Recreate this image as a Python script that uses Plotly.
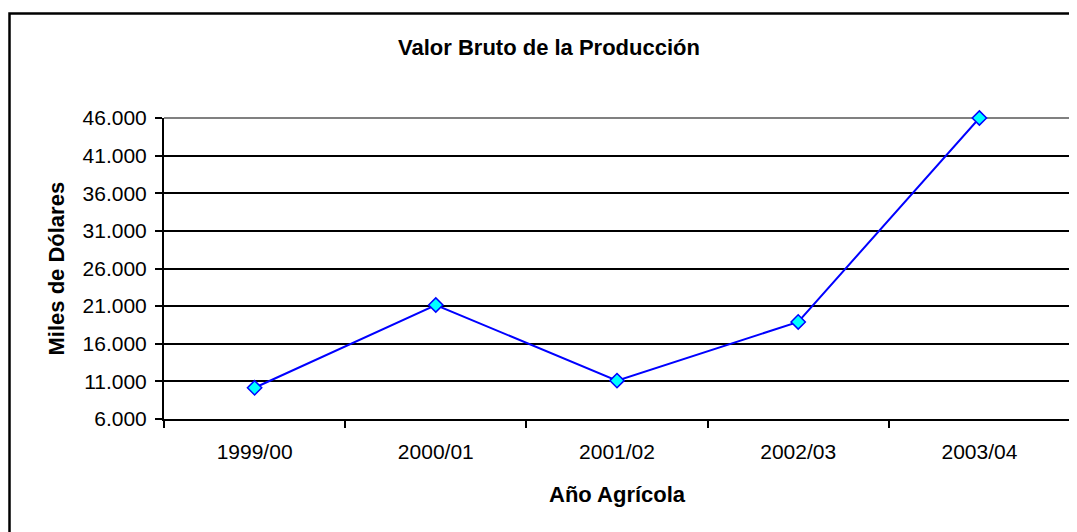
import plotly.graph_objects as go

categories = ["1999/00", "2000/01", "2001/02", "2002/03", "2003/04"]
values = [10150, 21150, 11100, 18900, 46000]
y_tickvals = [6000, 11000, 16000, 21000, 26000, 31000, 36000, 41000, 46000]

W, H = 1077, 532
OFF = 8  # page body margin offset
# plot area in screen pixels (reference)
PX0, PX1, PY0, PY1 = 164, 1070, 118, 419
L = PX0 - OFF
R = W - (PX1 - OFF)
T = PY0 - OFF
B = H - (PY1 - OFF)
pw, ph = PX1 - PX0, PY1 - PY0

def px_x(p):
    return (p - PX0) / pw

def px_y(p):
    return (PY1 - p) / ph

font = "Liberation Sans, Arial, sans-serif"

fig = go.Figure()
fig.add_trace(go.Scatter(
    x=categories, y=values, mode="lines+markers",
    line=dict(color="#0000FF", width=2),
    marker=dict(symbol="diamond", size=11, color="#00FFFF",
                line=dict(color="#0000FF", width=1.5)),
    showlegend=False, cliponaxis=False,
))

fig.update_layout(
    width=W, height=H,
    margin=dict(l=L, r=R, t=T, b=B, autoexpand=False),
    paper_bgcolor="white", plot_bgcolor="white",
    separators=",.",
    font=dict(family=font, color="black", size=21),
    title=dict(text="<b>Valor Bruto de la Producción</b>", x=(549 - OFF) / W, xanchor="center",
               y=1 - (47 - OFF) / H, yanchor="middle", font=dict(size=22, family=font, color="black")),
    xaxis=dict(
        type="category", range=[-0.5, 4.5], tickson="boundaries",
        ticks="outside", ticklen=7, tickwidth=1.5, tickcolor="black",
        showline=True, linecolor="black", linewidth=2,
        showgrid=False, zeroline=False,
        tickfont=dict(size=21, family=font, color="black"),
        ticklabelstandoff=13,
    ),
    yaxis=dict(
        range=[6000, 46000], tickvals=y_tickvals, tickformat=",d",
        ticks="outside", ticklen=7, tickwidth=1.5, tickcolor="black",
        showline=True, linecolor="black", linewidth=2,
        showgrid=True, gridcolor="black", gridwidth=1.5, zeroline=False,
        tickfont=dict(size=21, family=font, color="black"),
        ticklabelstandoff=4,
    ),
    shapes=[
        dict(type="line", xref="paper", yref="paper", x0=0, x1=1, y0=1, y1=1,
             line=dict(color="#808080", width=2), layer="between"),
        dict(type="line", xref="paper", yref="paper", x0=1, x1=1, y0=0, y1=1,
             line=dict(color="#808080", width=2), layer="between"),
        dict(type="rect", xref="paper", yref="paper",
             x0=px_x(9.5), x1=px_x(1100), y0=px_y(560), y1=px_y(13.5),
             line=dict(color="black", width=2.5), fillcolor="rgba(0,0,0,0)", layer="above"),
    ],
    annotations=[
        dict(text="<b>Año Agrícola</b>", xref="paper", yref="paper", x=0.5, y=0,
             yshift=-75, xanchor="center", yanchor="middle", showarrow=False,
             font=dict(size=22, family=font, color="black")),
        dict(text="<b>Miles de Dólares</b>", xref="paper", yref="paper", x=px_x(56), y=0.5,
             xanchor="center", yanchor="middle", textangle=-90, showarrow=False,
             font=dict(size=22, family=font, color="black")),
    ],
)

fig.write_html("out.html")
